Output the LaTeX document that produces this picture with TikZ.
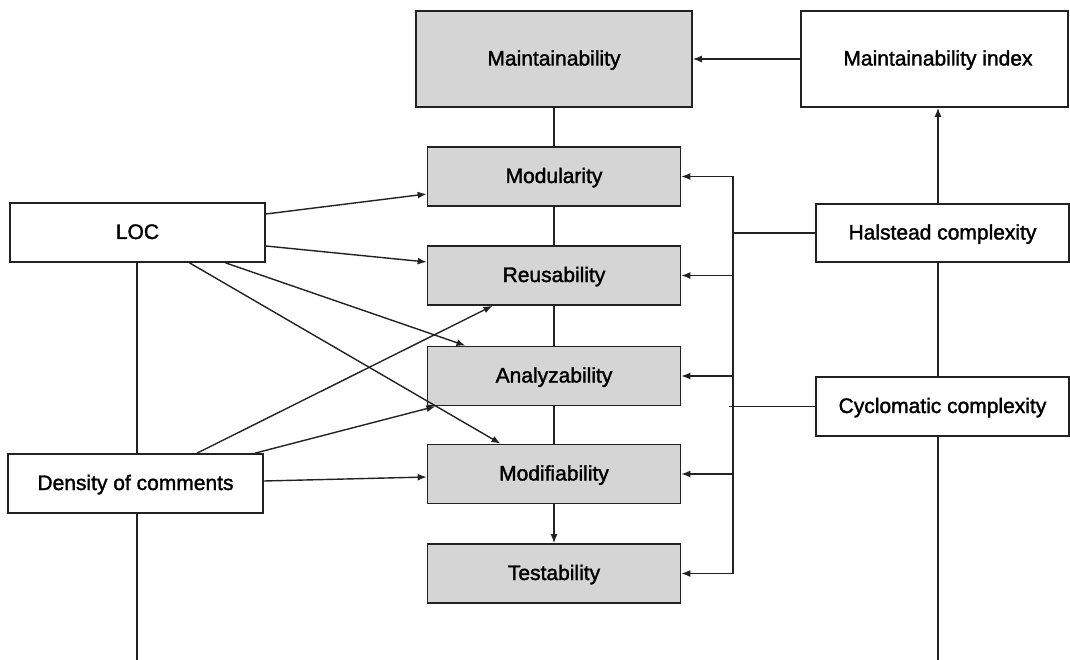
\documentclass[tikz,border=0pt]{standalone}
\usepackage{fontspec}
\setmainfont{Liberation Sans}
\newfontfamily\boxfont{Liberation Sans}[FakeBold=1.6]
\usetikzlibrary{arrows.meta,calc}
\definecolor{boxgray}{HTML}{D5D5D5}
\definecolor{edge}{HTML}{222222}
\tikzset{
  box/.style={draw=edge, line width=1.7pt, rectangle, inner sep=0pt, align=center,
    font=\boxfont\fontsize{21}{25}\selectfont, text depth=0pt, text height=13pt},
  qual/.style={box, fill=boxgray, minimum width=253pt, minimum height=59pt},
  metric/.style={box, fill=white},
  conn/.style={draw=edge, line width=1.4pt},
  arr/.style={conn, -{Latex[length=9pt,width=7pt]}},
}
\begin{document}
\begin{tikzpicture}[x=1pt,y=-1pt]
\useasboundingbox (0,0) rectangle (1070,660);
% quality characteristics
\node[box, fill=boxgray, minimum width=276pt, minimum height=96pt] (maint) at (554,59) {Maintainability};
\node[qual] (mod)  at (554,176.5) {Modularity};
\node[qual] (reu)  at (554,275.5) {Reusability};
\node[qual] (ana)  at (554,376)   {Analyzability};
\node[qual] (modi) at (554,474)   {Modifiability};
\node[qual] (test) at (554,573.5) {Testability};
% metrics
\node[metric, minimum width=267pt, minimum height=96pt] (mi) at (934.5,59) {\hspace*{7pt}Maintainability index};
\node[metric, minimum width=255pt, minimum height=59pt] (loc) at (137.5,232.5) {LOC};
\node[metric, minimum width=255pt, minimum height=59pt] (dens) at (135.5,483.5) {Density of comments};
\node[metric, minimum width=253pt, minimum height=58pt] (hal) at (942.5,233) {Halstead complexity};
\node[metric, minimum width=253pt, minimum height=59pt] (cyc) at (942.5,406.5) {Cyclomatic complexity};
% helper coordinates
\coordinate (bx) at (733,0);
\coordinate (rv) at (938,660);
\coordinate (lv) at (137,660);
% vertical chain
\draw[arr] (mi.west) -- (maint.east);
\draw[conn] (maint.south) -- (mod.north);
\draw[conn] (mod.south) -- (reu.north);
\draw[conn] (reu.south) -- (ana.north);
\draw[conn] (ana.south) -- (modi.north);
\draw[arr] (modi.south) -- (test.north);
% bus on the right
\draw[conn] (bx |- mod.east) -- (bx |- test.east);
\foreach \n in {mod,reu,ana,modi,test}{
  \draw[arr] (bx |- \n.east) -- (\n.east);
}
\draw[conn] (hal.west) -- (bx |- hal.west);
\draw[conn] (cyc.west) -- ([xshift=-4pt]bx |- cyc.west);
% right vertical line
\draw[conn] (rv) -- (rv |- cyc.south);
\draw[conn] (rv |- cyc.north) -- (rv |- hal.south);
\draw[arr] (rv |- hal.north) -- (rv |- mi.south);
% left vertical line
\draw[conn] (lv |- loc.south) -- (lv |- dens.north);
\draw[conn] (lv |- dens.south) -- (lv);
% LOC arrows
\draw[arr] ([yshift=18.5pt]loc.east) -- ([yshift=-17.5pt]mod.west);
\draw[arr] ([yshift=-13.5pt]loc.east) -- ([yshift=13.5pt]reu.west);
\draw[arr] ([xshift=88pt]loc.south) -- ([xshift=-88.5pt]ana.north);
\draw[arr] ([xshift=52pt]loc.south) -- ([xshift=-53.5pt]modi.north);
% Density arrows
\draw[arr] ([xshift=61.5pt]dens.north) -- ([xshift=-61.5pt]reu.south);
\draw[arr] ([xshift=119.5pt]dens.north) -- ([xshift=-118.5pt]ana.south);
\draw[arr] ([yshift=2.5pt]dens.east) -- ([yshift=-3pt]modi.west);
\end{tikzpicture}
\end{document}
